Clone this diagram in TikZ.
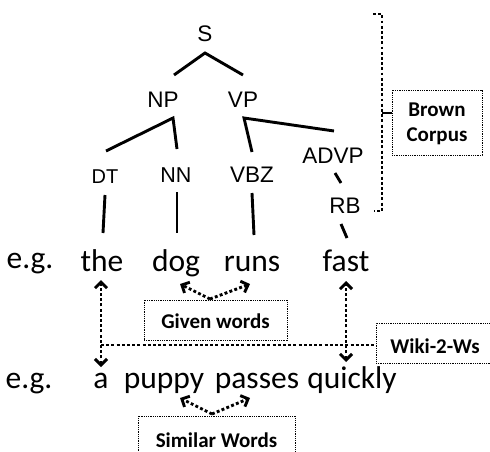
\documentclass[tikz,border=0pt]{standalone}
\usepackage{fontspec}
\setmainfont{Carlito}
\newfontfamily\treefont{Liberation Sans}
\usetikzlibrary{arrows.meta}
\tikzset{
  treelab/.style={font=\treefont\fontsize{22.5}{24}\selectfont, inner sep=0pt, anchor=base},
  wordlab/.style={font=\fontsize{31.5}{33}\selectfont, inner sep=0pt, anchor=base},
  boxlab/.style={font=\bfseries\fontsize{21}{25}\selectfont, inner sep=0pt, align=center},
  treeline/.style={line width=2.9pt},
  tipb/.style={Straight Barb[length=6pt,width=12pt,line width=2.9pt]},
  dotarrow/.style={line width=2.9pt, dash pattern=on 2.9pt off 2.3pt, {Straight Barb[length=6pt,width=12pt,line width=2.9pt]}-{Straight Barb[length=6pt,width=12pt,line width=2.9pt]}},
  onearrow/.style={line width=2.9pt, dash pattern=on 2.9pt off 2.3pt, -{Straight Barb[length=6pt,width=12pt,line width=2.9pt]}},
  dotline/.style={line width=2.9pt, dash pattern=on 2.9pt off 2.3pt},
  dotbox/.style={draw, line width=0.9pt, dash pattern=on 0.9pt off 0.9pt},
}
\begin{document}
\begin{tikzpicture}[x=1pt,y=-1pt]
\clip (0,0) rectangle (490,452);
\fill[white] (0,0) rectangle (490,452);
% tree labels
\node[treelab] (S) at (205,42) {S};
\node[treelab] (NP) at (163,107) {NP};
\node[treelab] (VP) at (243,107) {VP};
\node[treelab, font=\treefont\fontsize{20}{22}\selectfont] (DT) at (105,183) {DT};
\node[treelab, font=\treefont\fontsize{21.5}{22}\selectfont] (NN) at (176,182) {NN};
\node[treelab] (VBZ) at (252,182) {VBZ};
\node[treelab] (ADVP) at (333,163) {ADVP};
\node[treelab] (RB) at (345,213) {RB};
% words
\node[wordlab] (eg1) at (30,268) {e.g.};
\node[wordlab] (the) at (102,271) {the};
\node[wordlab] (dog) at (176,271) {dog};
\node[wordlab] (runs) at (252,271) {runs};
\node[wordlab] (fast) at (346,271) {fast};
\node[wordlab] (eg2) at (29,388) {e.g.};
\node[wordlab] (a) at (101,388) {a};
\node[wordlab] (puppy) at (164,388) {puppy};
\node[wordlab] (passes) at (257,388) {passes};
\node[wordlab] (quickly) at (352,388) {quickly};
% tree line endpoints
\coordinate (Sb) at (205,53);
\coordinate (NPt) at (174,75);
\coordinate (VPt) at (243,75);
\coordinate (NPb) at (173,118);
\coordinate (DTt) at (106,151);
\coordinate (NNt) at (177,149);
\coordinate (VPb) at (244,118);
\coordinate (VBZt) at (252,152);
\coordinate (ADVPt) at (334,131);
\coordinate (ADVPb) at (335,173);
\coordinate (RBt) at (341,183);
\coordinate (DTb) at (105,195);
\coordinate (theT) at (103,233);
\coordinate (NNb) at (177,192);
\coordinate (dogT) at (177,233);
\coordinate (VBZb) at (252,193);
\coordinate (runsT) at (254,235);
\coordinate (RBb) at (341,224);
\coordinate (fastT) at (347,238);
\draw[treeline] (NPt) -- (Sb) -- (VPt);
\draw[treeline] (DTt) -- (NPb) -- (NNt);
\draw[treeline] (VBZt) -- (VPb) -- (ADVPt);
\draw[treeline] (ADVPb) -- (RBt);
\draw[treeline] (DTb) -- (theT);
\draw[treeline] (NNb) -- (dogT);
\draw[treeline] (VBZb) -- (runsT);
\draw[treeline] (RBb) -- (fastT);
% Brown corpus bracket and box
\node[dotbox, minimum width=90pt, minimum height=65pt, inner sep=0pt] (brownbox) at (437,122.5) {};
\node[boxlab] (brown) at (437,124) {Brown\\Corpus};
\coordinate (brT) at (373,14);
\coordinate (brTR) at (382,14);
\coordinate (brBR) at (382,211);
\coordinate (brB) at (374,211);
\coordinate (brM) at (382,113);
\draw[dotline] (brT) -- (brTR) -- (brBR) -- (brB);
\draw[line width=2.6pt] (brM) -- (brownbox.west |- brM);
% Given words
\node[dotbox, minimum width=143pt, minimum height=40pt, inner sep=0pt] (givenbox) at (215.5,320) {};
\node[boxlab] (given) at (215.5,321) {Given words};
\coordinate (gO) at (210,299);
\coordinate (gL) at (180,284);
\coordinate (gR) at (250,284);
\draw[onearrow] (gO) -- (gL);
\draw[onearrow] (gO) -- (gR);
% Similar words
\node[dotbox, minimum width=157pt, minimum height=44pt, inner sep=0pt] (simbox) at (216.5,438) {};
\node[boxlab] (sim) at (216.5,440) {Similar Words};
\coordinate (sO) at (212,414);
\coordinate (sL) at (180,398);
\coordinate (sR) at (250,398);
\draw[onearrow] (sO) -- (sL);
\draw[onearrow] (sO) -- (sR);
% Wiki-2-Ws
\node[dotbox, minimum width=124pt, minimum height=40pt, inner sep=0pt] (wikibox) at (438,343) {};
\node[boxlab] (wiki) at (435,346) {Wiki-2-Ws};
\coordinate (taT) at (101,280);
\coordinate (taB) at (101,367);
\coordinate (taM) at (101,345);
\coordinate (fqT) at (346,281);
\coordinate (fqB) at (346,362);
\draw[dotarrow] (taB) -- (taT);
\draw[dotarrow] (fqB) -- (fqT);
\draw[dotline] (taM) -- (taM -| wikibox.west);
\end{tikzpicture}
\end{document}
